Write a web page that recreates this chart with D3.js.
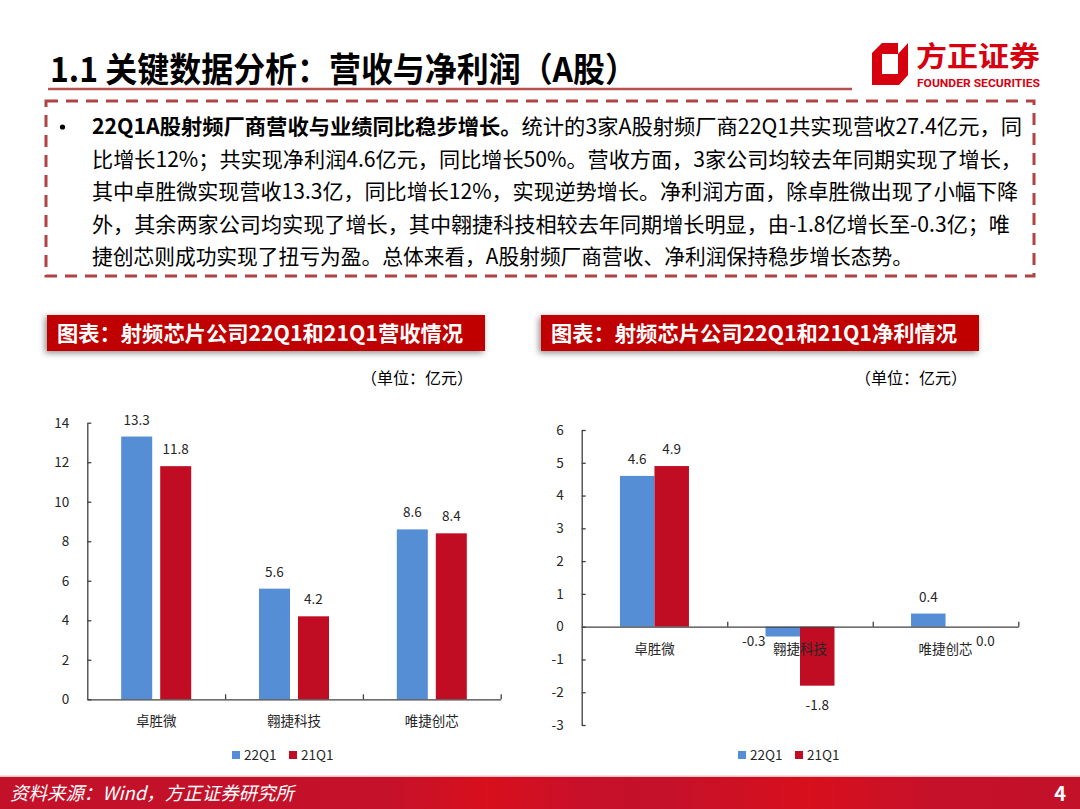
<!DOCTYPE html>
<html lang="zh-CN">
<head>
  <meta charset="UTF-8">
  <title>射频芯片公司营收与净利润</title>
  <script src="https://d3js.org/d3.v7.min.js"></script>
  <style>
    body {
      margin: 0;
      background: #fff;
      font-family: "Noto Sans CJK SC", "Noto Sans", sans-serif;
    }
    svg { display: block; }
    .axis path, .axis line { stroke: #404040; stroke-width: 1.3px; }
    .axis text { fill: #262626; font-size: 13.5px; }
  </style>
</head>
<body>
  <svg id="page" width="1080" height="809"></svg>

  <script>
    // categories and series
    const companies = ['卓胜微', '翱捷科技', '唯捷创芯'];
    const seriesNames = ['22Q1', '21Q1'];
    const seriesColors = ['#558ed5', '#c00d23'];

    // 营收（亿元）
    const revenue22Q1 = [13.3, 5.6, 8.6];
    const revenue21Q1 = [11.8, 4.2, 8.4];
    const revenueTicks = [0, 2, 4, 6, 8, 10, 12, 14];

    // 净利润（亿元）
    const profit22Q1 = [4.6, -0.3, 0.4];
    const profit21Q1 = [4.9, -1.8, 0.0];
    const profitTicks = [-3, -2, -1, 0, 1, 2, 3, 4, 5, 6];

    // page texts
    const pageTitle = '1.1 关键数据分析：营收与净利润（A股）';
    const bulletLead = '22Q1A股射频厂商营收与业绩同比稳步增长。';
    const bodyLines = [
      '统计的3家A股射频厂商22Q1共实现营收27.4亿元，同',
      '比增长12%；共实现净利润4.6亿元，同比增长50%。营收方面，3家公司均较去年同期实现了增长，',
      '其中卓胜微实现营收13.3亿，同比增长12%，实现逆势增长。净利润方面，除卓胜微出现了小幅下降',
      '外，其余两家公司均实现了增长，其中翱捷科技相较去年同期增长明显，由-1.8亿增长至-0.3亿；唯',
      '捷创芯则成功实现了扭亏为盈。总体来看，A股射频厂商营收、净利润保持稳步增长态势。'
    ];
    const chartTitles = ['图表：射频芯片公司22Q1和21Q1营收情况', '图表：射频芯片公司22Q1和21Q1净利情况'];
    const unitLabel = '（单位：亿元）';
    const sourceNote = '资料来源：Wind，方正证券研究所';
    const pageNumber = '4';

    const svg = d3.select('#page');
    const defs = svg.append('defs');

    const shadow = defs.append('filter').attr('id', 'shadow')
      .attr('x', '-10%').attr('y', '-40%').attr('width', '120%').attr('height', '180%');
    shadow.append('feDropShadow')
      .attr('dx', -2).attr('dy', 2).attr('stdDeviation', 3)
      .attr('flood-color', '#000').attr('flood-opacity', 0.45);

    const footGrad = defs.append('linearGradient').attr('id', 'footGrad');
    [[0, '#c3112a'], [0.36, '#c5112a'], [0.45, '#d80f1c'], [0.54, '#c8102a'],
     [0.62, '#c5112a'], [0.75, '#d80f1c'], [0.86, '#c6112a'], [1, '#c3112a']]
      .forEach(([o, c]) => footGrad.append('stop').attr('offset', o).attr('stop-color', c));

    // ---- header ----
    svg.append('text')
      .attr('x', 50).attr('y', 82)
      .attr('font-size', 34).attr('font-weight', 700).attr('fill', '#000')
      .attr('textLength', 587).attr('lengthAdjust', 'spacingAndGlyphs')
      .text(pageTitle);
    svg.append('line')
      .attr('x1', 48).attr('x2', 852).attr('y1', 89).attr('y2', 89)
      .attr('stroke', '#b5504e').attr('stroke-width', 2.5);

    // logo
    const logo = svg.append('g');
    logo.append('path')
      .attr('d', 'M882,43 L908,43 L908,75 L899,85 L872,85 L872,53 Z')
      .attr('fill', '#d7000f');
    logo.append('path')
      .attr('d', 'M882,54 L898,54 L898,74 L882,74 Z M898,43 L908,43 L898,54 Z')
      .attr('fill', '#fff');
    logo.append('text')
      .attr('x', 916).attr('y', 67)
      .attr('font-size', 28).attr('font-weight', 700).attr('fill', '#d7000f')
      .attr('textLength', 124).attr('lengthAdjust', 'spacingAndGlyphs')
      .text('方正证券');
    logo.append('text')
      .attr('x', 917).attr('y', 87)
      .attr('font-size', 10).attr('font-weight', 700).attr('fill', '#d7000f')
      .attr('font-family', 'Roboto, sans-serif')
      .attr('textLength', 123).attr('lengthAdjust', 'spacingAndGlyphs')
      .text('FOUNDER SECURITIES');

    // ---- summary box ----
    svg.append('rect')
      .attr('x', 46).attr('y', 101).attr('width', 988).attr('height', 175)
      .attr('fill', 'none').attr('stroke', '#b04343').attr('stroke-width', 3)
      .attr('stroke-dasharray', '12 8');

    const lineWidths = [930, 930, 926, 918, 821];
    svg.append('circle')
      .attr('cx', 62.5).attr('cy', 127).attr('r', 2.6).attr('fill', '#000');
    bodyLines.forEach((line, i) => {
      const t = svg.append('text')
        .attr('x', 92).attr('y', 134 + i * 32.6)
        .attr('font-size', 21).attr('fill', '#000')
        .attr('textLength', lineWidths[i]).attr('lengthAdjust', 'spacingAndGlyphs');
      if (i === 0) t.append('tspan').attr('font-weight', 700).text(bulletLead);
      t.append('tspan').text(line);
    });

    // ---- chart title bars ----
    const panelX = [47, 541];
    chartTitles.forEach((title, i) => {
      svg.append('rect')
        .attr('x', panelX[i]).attr('y', 315).attr('width', 438).attr('height', 36)
        .attr('fill', '#c00000').attr('filter', 'url(#shadow)');
      svg.append('text')
        .attr('x', panelX[i] + 10).attr('y', 341)
        .attr('font-size', 21).attr('font-weight', 700).attr('fill', '#fff')
        .attr('textLength', 406).attr('lengthAdjust', 'spacingAndGlyphs')
        .text(title);
      svg.append('text')
        .attr('x', panelX[i] + 426).attr('y', 384)
        .attr('text-anchor', 'end').attr('font-size', 16).attr('fill', '#000')
        .text(unitLabel);
    });

    // ---- grouped bar chart ----
    function drawBarChart(cfg) {
      const g = svg.append('g');
      const y = d3.scaleLinear().domain(d3.extent(cfg.ticks)).range([cfg.bottom, cfg.top]);
      const x0 = d3.scaleBand().domain(companies).range([cfg.left, cfg.right])
        .paddingInner(cfg.groupPad).paddingOuter(cfg.groupPad / 2);
      const x1 = d3.scaleBand().domain(seriesNames).range([0, x0.bandwidth()])
        .paddingInner(cfg.barPad);
      const xEdge = d3.scaleLinear().domain([0, companies.length]).range([cfg.left, cfg.right]);

      const rows = companies.map((c, i) => ({
        company: c,
        values: cfg.series.map((s, k) => ({ name: seriesNames[k], k, value: s[i] }))
      }));

      const groups = g.selectAll('g.grp').data(rows).enter().append('g')
        .attr('class', 'grp')
        .attr('transform', d => `translate(${x0(d.company)},0)`);

      groups.selectAll('rect').data(d => d.values).enter().append('rect')
        .attr('x', d => x1(d.name))
        .attr('y', d => y(Math.max(0, d.value)))
        .attr('width', x1.bandwidth())
        .attr('height', d => Math.abs(y(d.value) - y(0)))
        .attr('fill', d => seriesColors[d.k]);

      // value labels
      groups.selectAll('text.val').data(d => d.values).enter().append('text')
        .attr('class', 'val')
        .attr('font-size', 13.5).attr('fill', '#262626')
        .each(function (d) {
          const t = d3.select(this);
          const bx = x1(d.name), bw = x1.bandwidth();
          if (d.value > 0) {
            t.attr('x', bx + bw / 2).attr('y', y(d.value) - 12).attr('text-anchor', 'middle');
          } else if (d.value <= -1) {
            t.attr('x', bx + bw / 2).attr('y', y(d.value) + 24).attr('text-anchor', 'middle');
          } else if (d.k === 0) {
            t.attr('x', bx).attr('y', y(0) + 19).attr('text-anchor', 'end');
          } else {
            t.attr('x', bx + bw - 4).attr('y', y(0) + 19).attr('text-anchor', 'start');
          }
        })
        .text(d => d.value.toFixed(1));

      // y axis
      g.append('g').attr('class', 'axis')
        .attr('transform', `translate(${cfg.left},0)`)
        .call(d3.axisLeft(y).tickValues(cfg.ticks).tickSizeInner(-4).tickSizeOuter(0)
          .tickPadding(18).tickFormat(d => String(d)))
        .attr('font-family', null).attr('font-size', null);

      // x axis with category boundary ticks
      g.append('g').attr('class', 'axis')
        .attr('transform', `translate(0,${y(0)})`)
        .call(d3.axisBottom(xEdge).tickValues(d3.range(1, companies.length + 1))
          .tickSizeInner(-5).tickSizeOuter(0).tickFormat(''));

      // category labels
      g.selectAll('text.cat').data(companies).enter().append('text')
        .attr('class', 'cat')
        .attr('x', d => x0(d) + x0.bandwidth() / 2)
        .attr('y', y(0) + 27)
        .attr('text-anchor', 'middle').attr('font-size', 13.5).attr('fill', '#262626')
        .text(d => d);

      // legend
      const lx = (cfg.left + cfg.right) / 2 - 62;
      const legend = g.selectAll('g.leg').data(seriesNames).enter().append('g')
        .attr('class', 'leg')
        .attr('transform', (d, i) => `translate(${lx + i * 57},${cfg.legendY})`);
      legend.append('rect')
        .attr('x', 0).attr('y', -4).attr('width', 8).attr('height', 8)
        .attr('fill', (d, i) => seriesColors[i]);
      legend.append('text')
        .attr('x', 12).attr('y', 5)
        .attr('font-size', 13.5).attr('fill', '#262626')
        .text(d => d);
    }

    drawBarChart({
      series: [revenue22Q1, revenue21Q1], ticks: revenueTicks,
      left: 87.3, right: 500.7, top: 422.7, bottom: 699.3,
      groupPad: 0.492, barPad: 0.205, legendY: 755
    });

    drawBarChart({
      series: [profit22Q1, profit21Q1], ticks: profitTicks,
      left: 581.7, right: 1018.3, top: 430, bottom: 725,
      groupPad: 0.526, barPad: 0, legendY: 755
    });

    // ---- footer ----
    svg.append('rect')
      .attr('x', 0).attr('y', 775.5).attr('width', 1080).attr('height', 1.5)
      .attr('fill', '#e6c4c4');
    svg.append('rect')
      .attr('x', 0).attr('y', 777).attr('width', 1080).attr('height', 32)
      .attr('fill', 'url(#footGrad)');
    svg.append('text')
      .attr('x', 10).attr('y', 800)
      .attr('font-size', 18.5).attr('font-style', 'italic').attr('fill', '#fff')
      .attr('textLength', 284).attr('lengthAdjust', 'spacingAndGlyphs')
      .text(sourceNote);
    svg.append('text')
      .attr('x', 1066).attr('y', 801)
      .attr('text-anchor', 'end')
      .attr('font-size', 20).attr('font-weight', 700).attr('fill', '#fff')
      .text(pageNumber);
  </script>
</body>
</html>
